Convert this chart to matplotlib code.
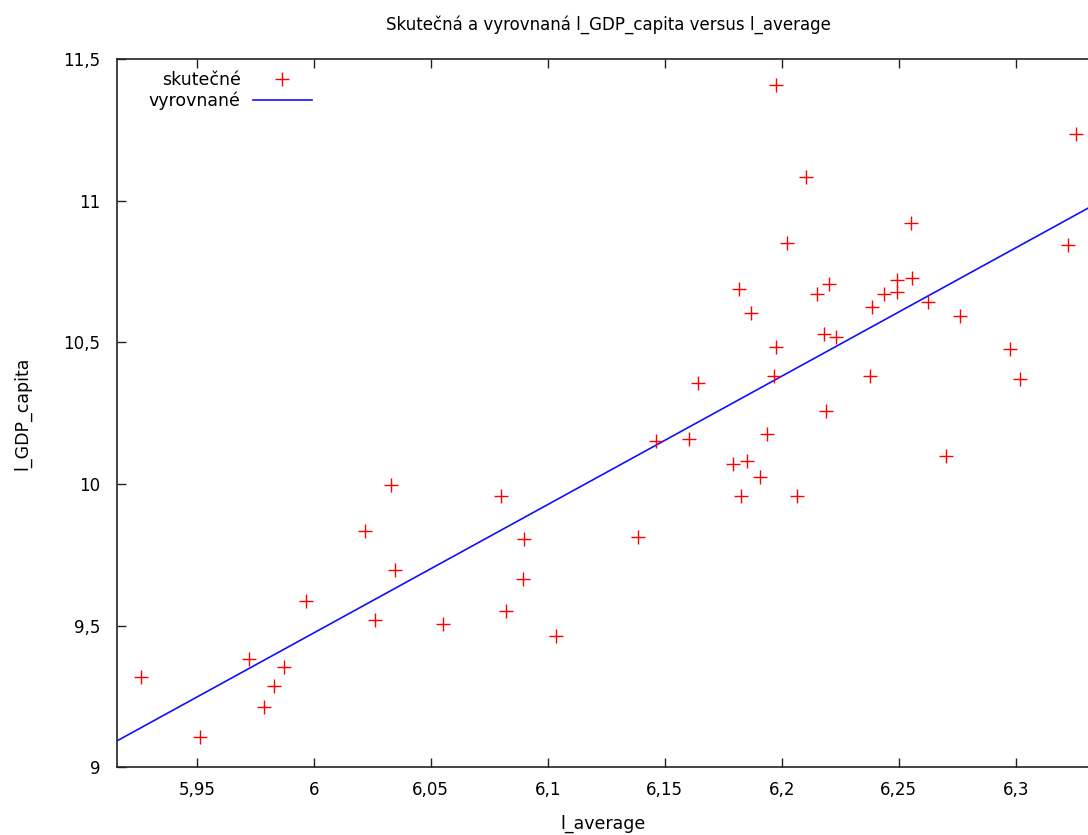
import matplotlib

matplotlib.use("Agg")
import matplotlib.pyplot as plt

# observed points (l_average, l_GDP_capita)
l_average = [
    5.9263, 5.9514, 5.9725, 5.9786, 5.9832, 5.9872, 5.9968, 6.0218, 6.0263, 6.0332,
    6.0346, 6.0553, 6.0802, 6.0823, 6.0899, 6.0893, 6.1035, 6.1385, 6.1462, 6.1604,
    6.1642, 6.1793, 6.1853, 6.1907, 6.1825, 6.2065, 6.1937, 6.1818, 6.1870, 6.1974,
    6.1966, 6.1974, 6.2104, 6.2021, 6.2150, 6.2203, 6.2180, 6.2233, 6.2188, 6.2377,
    6.2385, 6.2436, 6.2491, 6.2491, 6.2558, 6.2553, 6.2627, 6.2763, 6.2702, 6.2976,
    6.3020, 6.3225, 6.3256,
]
l_gdp_capita = [
    9.320, 9.108, 9.382, 9.214, 9.288, 9.355, 9.588, 9.833, 9.520, 9.995,
    9.696, 9.507, 9.958, 9.552, 9.807, 9.665, 9.464, 9.814, 10.152, 10.158,
    10.357, 10.071, 10.082, 10.026, 9.957, 9.957, 10.177, 10.688, 10.603, 10.483,
    10.382, 11.407, 11.083, 10.852, 10.670, 10.707, 10.528, 10.520, 10.258, 10.382,
    10.626, 10.671, 10.720, 10.677, 10.726, 10.920, 10.644, 10.594, 10.100, 10.477,
    10.371, 10.845, 11.237,
]

# fitted line end points
fit_x = [5.90, 6.35]
fit_y = [9.021, 11.060]

x_ticks = [5.95, 6.0, 6.05, 6.1, 6.15, 6.2, 6.25, 6.3]
x_tick_labels = ["5,95", "6", "6,05", "6,1", "6,15", "6,2", "6,25", "6,3"]
y_ticks = [9, 9.5, 10, 10.5, 11, 11.5]
y_tick_labels = ["9", "9,5", "10", "10,5", "11", "11,5"]

plt.rcParams["font.family"] = ["DejaVu Sans"]

fig = plt.figure(figsize=(10.88, 8.35), dpi=100)
ax = fig.add_axes([117 / 1088, 1 - 767.3 / 835, 1 - 117 / 1088, (767.3 - 59) / 835])

ax.plot(l_average, l_gdp_capita, linestyle="none", marker="+", color="#ff0000",
        markersize=9.5, markeredgewidth=1.0, label="skutečné", zorder=3)
ax.plot(fit_x, fit_y, color="#1010ff", linewidth=1.2, label="vyrovnané", zorder=2)

ax.set_xlim(5.91594, 6.3309)
ax.set_ylim(9, 11.5)
ax.set_xticks(x_ticks)
ax.set_xticklabels(x_tick_labels)
ax.set_yticks(y_ticks)
ax.set_yticklabels(y_tick_labels)
ax.tick_params(direction="in", length=6.5, width=1.0, color="#222222",
               labelsize=12, top=True, pad=10)
ax.tick_params(axis="y", pad=12)
ax.spines["right"].set_visible(False)
for side in ("left", "bottom", "top"):
    ax.spines[side].set_linewidth(1.2)
    ax.spines[side].set_color("#222222")

ax.set_xlabel("l_average", fontsize=12.5, labelpad=11)
ax.set_ylabel("l_GDP_capita", fontsize=12.5, labelpad=23)
fig.text(608 / 1088, 1 - 25 / 835, "Skutečná a vyrovnaná l_GDP_capita versus l_average",
         ha="center", va="center", fontsize=12)

ax.legend(loc="upper left", bbox_to_anchor=(0.02, 1.0), frameon=False, markerfirst=False,
          fontsize=12.5, handlelength=3.4, handletextpad=0.7, labelspacing=0.15,
          borderaxespad=0.3)

fig.savefig("out.png", dpi=100)
